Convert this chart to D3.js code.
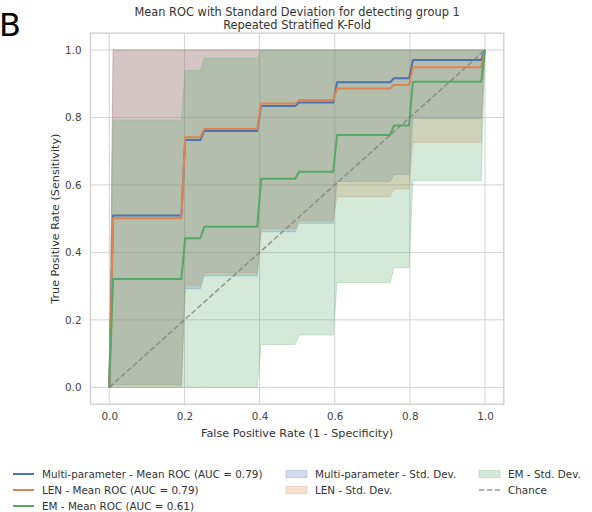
<!DOCTYPE html>
<html>
<head>
<meta charset="utf-8">
<script src="https://cdn.jsdelivr.net/npm/d3@7"></script>
<style>
  html, body { margin: 0; padding: 0; background: #fff; }
  svg { display: block; font-family: "DejaVu Sans", sans-serif; }
</style>
</head>
<body>
<svg id="chart" width="592" height="512"></svg>
<script>
// Shared false-positive-rate grid of the averaged ROC curves
const fprGrid = [0, 0.0101, 0.1919, 0.2020, 0.2424, 0.2525, 0.3939, 0.4040, 0.4949, 0.5051,
                 0.5960, 0.6061, 0.7475, 0.7576, 0.7980, 0.8081, 0.9899, 1.0];

// Mean TPR per model
const multiMean = [0, .509, .509, .733, .733, .760, .760, .834, .834, .844, .844, .904, .904, .916, .916, .970, .970, 1];
const lenMean   = [0, .501, .501, .741, .741, .766, .766, .841, .841, .852, .852, .886, .886, .896, .896, .949, .949, 1];
const emMean    = [0, .321, .321, .442, .442, .476, .476, .618, .618, .639, .639, .748, .748, .776, .776, .906, .906, 1];

// Mean ± 1 std (clipped to [0, 1])
const multiLower = [0, .008, .008, .292, .292, .330, .330, .461, .461, .486, .486, .610, .610, .631, .631, .797, .797, 1];
const multiUpper = [0, 1, 1, 1, 1, 1, 1, 1, 1, 1, 1, 1, 1, 1, 1, 1, 1, 1];
const lenLower   = [0, 0, 0, .303, .303, .340, .340, .471, .471, .494, .494, .565, .565, .588, .588, .726, .726, 1];
const lenUpper   = [0, 1, 1, 1, 1, 1, 1, 1, 1, 1, 1, 1, 1, 1, 1, 1, 1, 1];
const emLower    = [0, 0, 0, 0, 0, 0, 0, .127, .127, .155, .155, .310, .310, .355, .355, .613, .613, 1];
const emUpper    = [0, .792, .792, .939, .939, .975, .975, 1, 1, 1, 1, 1, 1, 1, 1, 1, 1, 1];

const modelNames = ["Multi-parameter", "LEN", "EM"];
const aucValues  = [0.79, 0.79, 0.61];
const modelColors = ["#4c72b0", "#dd8452", "#55a868"];
const tickValues = [0.0, 0.2, 0.4, 0.6, 0.8, 1.0];

const means  = [multiMean, lenMean, emMean];
const lowers = [multiLower, lenLower, emLower];
const uppers = [multiUpper, lenUpper, emUpper];

const svg = d3.select("#chart");
const x = d3.scaleLinear().domain([-0.05, 1.05]).range([90.5, 503.8]);
const y = d3.scaleLinear().domain([-0.05, 1.05]).range([404.2, 33.1]);
const BAND_ALPHA = 0.25;

// Grid
const grid = svg.append("g");
grid.selectAll("line.gx").data(tickValues).join("line")
  .attr("x1", d => x(d)).attr("x2", d => x(d))
  .attr("y1", y.range()[0]).attr("y2", y.range()[1])
  .attr("stroke", "#d3d3d3").attr("stroke-width", 1);
grid.selectAll("line.gy").data(tickValues).join("line")
  .attr("y1", d => y(d)).attr("y2", d => y(d))
  .attr("x1", x.range()[0]).attr("x2", x.range()[1])
  .attr("stroke", "#d3d3d3").attr("stroke-width", 1);

// Std. dev. bands
const area = d3.area().x(d => x(d.f)).y0(d => y(d.lo)).y1(d => y(d.hi));
modelNames.forEach((name, i) => {
  const pts = fprGrid.map((f, k) => ({ f, lo: lowers[i][k], hi: uppers[i][k] }));
  svg.append("path").datum(pts).attr("d", area)
    .attr("fill", modelColors[i]).attr("fill-opacity", BAND_ALPHA)
    .attr("stroke", modelColors[i]).attr("stroke-opacity", BAND_ALPHA).attr("stroke-width", 1);
});

// Mean ROC lines
const line = d3.line().x(d => x(d.f)).y(d => y(d.t));
modelNames.forEach((name, i) => {
  const pts = fprGrid.map((f, k) => ({ f, t: means[i][k] }));
  svg.append("path").datum(pts).attr("d", line)
    .attr("fill", "none").attr("stroke", modelColors[i]).attr("stroke-width", 2)
    .attr("stroke-linejoin", "round");
});

// Chance diagonal
svg.append("line")
  .attr("x1", x(0)).attr("y1", y(0)).attr("x2", x(1)).attr("y2", y(1))
  .attr("stroke", "#808080").attr("stroke-opacity", 0.8).attr("stroke-width", 1.5)
  .attr("stroke-dasharray", "5.5,2.4");

// Frame
svg.append("rect")
  .attr("x", x.range()[0]).attr("y", y.range()[1])
  .attr("width", x.range()[1] - x.range()[0]).attr("height", y.range()[0] - y.range()[1])
  .attr("fill", "none").attr("stroke", "#cccccc").attr("stroke-width", 1.25);

// Axes (labels only, no tick marks)
const fmt = d3.format(".1f");
const xAxis = svg.append("g").attr("transform", `translate(0,${y.range()[0]})`)
  .call(d3.axisBottom(x).tickValues(tickValues).tickFormat(fmt).tickSize(0).tickPadding(8));
const yAxis = svg.append("g").attr("transform", `translate(${x.range()[0]},0)`)
  .call(d3.axisLeft(y).tickValues(tickValues).tickFormat(fmt).tickSize(0).tickPadding(9));
[xAxis, yAxis].forEach(g => {
  g.select(".domain").remove();
  g.selectAll("text").attr("font-family", "DejaVu Sans").attr("font-size", 10.4).attr("fill", "#444");
});

// Axis titles
svg.append("text").attr("x", (x.range()[0] + x.range()[1]) / 2).attr("y", 437)
  .attr("text-anchor", "middle").attr("font-size", 11.2).attr("fill", "#333")
  .text("False Positive Rate (1 - Specificity)");
svg.append("text").attr("transform", `translate(59,${(y.range()[0] + y.range()[1]) / 2}) rotate(-90)`)
  .attr("text-anchor", "middle").attr("font-size", 11.2).attr("fill", "#333")
  .text("True Positive Rate (Sensitivity)");

// Title
const cx = (x.range()[0] + x.range()[1]) / 2;
svg.append("text").attr("x", cx).attr("y", 16).attr("text-anchor", "middle")
  .attr("font-size", 11.4).attr("fill", "#333")
  .text("Mean ROC with Standard Deviation for detecting group 1");
svg.append("text").attr("x", cx).attr("y", 29).attr("text-anchor", "middle")
  .attr("font-size", 11.4).attr("fill", "#333")
  .text("Repeated Stratified K-Fold");

// Panel letter
svg.append("text").attr("x", -1).attr("y", 36).attr("font-size", 32).attr("fill", "#000").text("B");

// Legend: three columns, filled column-wise
const legendItems = [
  ...modelNames.map((n, i) => ({ type: "line", color: modelColors[i], label: `${n} - Mean ROC (AUC = ${aucValues[i].toFixed(2)})` })),
  ...modelNames.map((n, i) => ({ type: "patch", color: modelColors[i], label: `${n} - Std. Dev.` })),
  { type: "dash", color: "#808080", label: "Chance" }
];
const colStarts = [13, 286, 479];
const colIdx = [0, 0, 0, 1, 1, 2, 2];
const rowIdx = [0, 1, 2, 0, 1, 0, 1];
const rowY = [474, 490, 506];
const lg = svg.append("g").attr("font-size", 10.4).attr("fill", "#333");
legendItems.forEach((it, i) => {
  const x0 = colStarts[colIdx[i]], yy = rowY[rowIdx[i]];
  if (it.type === "line") {
    lg.append("line").attr("x1", x0).attr("x2", x0 + 21).attr("y1", yy).attr("y2", yy)
      .attr("stroke", it.color).attr("stroke-width", 2);
  } else if (it.type === "patch") {
    lg.append("rect").attr("x", x0).attr("y", yy - 3.6).attr("width", 21).attr("height", 7.3)
      .attr("fill", it.color).attr("fill-opacity", BAND_ALPHA)
      .attr("stroke", it.color).attr("stroke-opacity", BAND_ALPHA);
  } else {
    lg.append("line").attr("x1", x0).attr("x2", x0 + 21).attr("y1", yy).attr("y2", yy)
      .attr("stroke", it.color).attr("stroke-opacity", 0.8).attr("stroke-width", 1.5)
      .attr("stroke-dasharray", "5.5,2.4");
  }
  lg.append("text").attr("x", x0 + 29).attr("y", yy).attr("dy", "0.35em").attr("fill", "#333").text(it.label);
});
</script>
</body>
</html>
